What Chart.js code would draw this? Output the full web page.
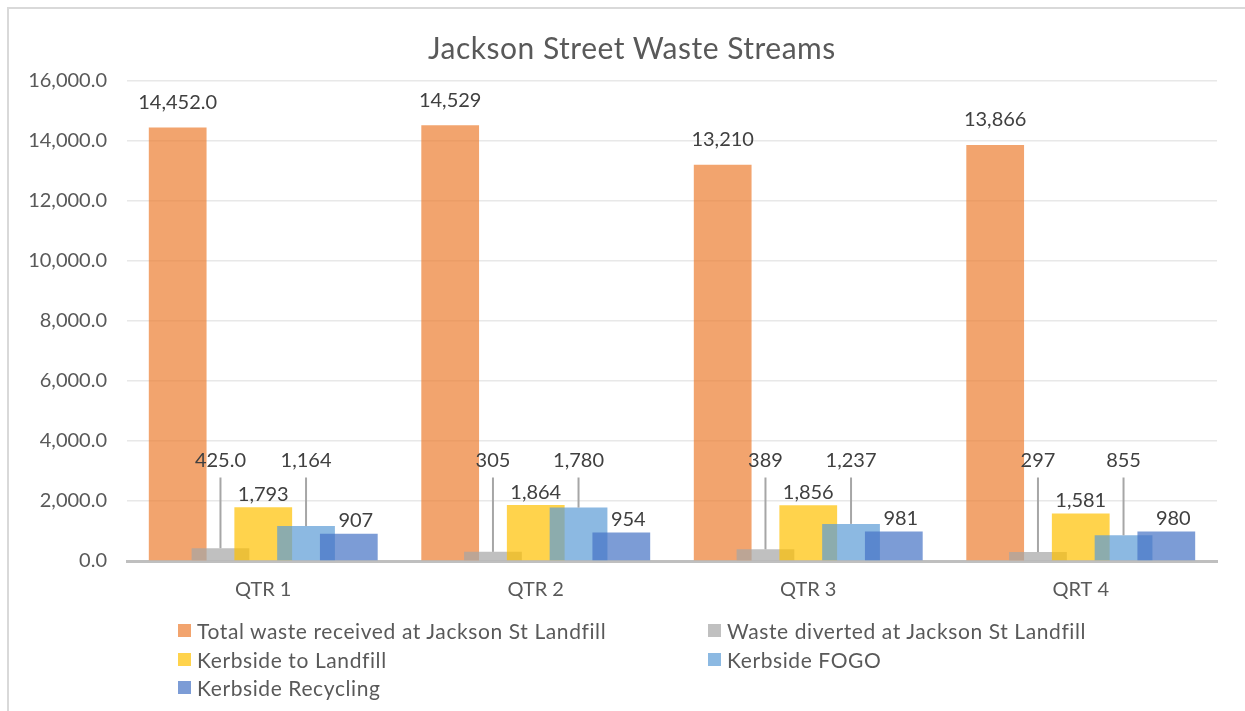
<!DOCTYPE html>
<html>
<head>
<meta charset="utf-8">
<script src="https://cdn.jsdelivr.net/npm/chart.js@4.4.1/dist/chart.umd.min.js"></script>
<style>
  html, body { margin: 0; padding: 0; background: #fff; }
  #wrap { position: relative; width: 1245px; height: 711px; overflow: hidden; font-family: Lato, 'Liberation Sans', sans-serif; }
  #frame { position: absolute; left: 7px; top: 7px; right: -10px; bottom: -10px; border-left: 2px solid #d9d9d9; border-top: 2px solid #d9d9d9; }
  #chart { position: absolute; left: 0; top: 0; }
  #title { position: absolute; left: 428px; width: 400px; top: 29px; height: 36px; line-height: 36px; text-align: center;
           font-size: 30px; letter-spacing: 0.5px; color: #595959; white-space: nowrap; }
  .lg { position: absolute; height: 24px; display: flex; align-items: center; font-size: 21px; letter-spacing: 0.6px; color: #595959; white-space: nowrap; }
  .lg i { display: inline-block; width: 13px; height: 13px; margin-right: 6px; }
</style>
</head>
<body>
<div id="wrap">
  <div id="frame"></div>
  <canvas id="chart" width="1245" height="711"></canvas>
  <div id="title">Jackson Street Waste Streams</div>
  <div id="legend"></div>
</div>
<script>
(function () {
    'use strict';

    const categories = ['QTR 1', 'QTR 2', 'QTR 3', 'QRT 4'];
    const seriesNames = [
        'Total waste received at Jackson St Landfill',
        'Waste diverted at Jackson St Landfill',
        'Kerbside to Landfill',
        'Kerbside FOGO',
        'Kerbside Recycling'
    ];
    const totalReceived     = [14452, 14529, 13210, 13866];
    const divertedLandfill  = [425, 305, 389, 297];
    const kerbsideLandfill  = [1793, 1864, 1856, 1581];
    const kerbsideFogo      = [1164, 1780, 1237, 855];
    const kerbsideRecycling = [907, 954, 981, 980];
    // decimals shown on each data label (only QTR 1 of the first two series shows ".0")
    const labelDecimals = [[1, 0, 0, 0], [1, 0, 0, 0], [0, 0, 0, 0], [0, 0, 0, 0], [0, 0, 0, 0]];
    const yMax = 16000, yStep = 2000;

    const COLORS = ['rgba(237,125,49,0.7)', 'rgba(165,165,165,0.7)', 'rgba(255,192,0,0.7)', 'rgba(91,155,213,0.7)', 'rgba(68,114,196,0.7)'];
    const FONT = 'Lato, "Liberation Sans", sans-serif';
    const CALLOUT = [false, true, false, true, false];  // labels lifted up with a leader line
    const CALLOUT_VALUE = 3350;
    const LABEL_GAP = [25, 0, 13, 0, 13];
    const LABEL_DX = [0, 0, 0, 0, 7];

    const allSeries = [totalReceived, divertedLandfill, kerbsideLandfill, kerbsideFogo, kerbsideRecycling];

    function fmt(v, d) { return v.toLocaleString('en-US', { minimumFractionDigits: d, maximumFractionDigits: d }); }

    // draw datasets first-to-last so later series sit on top
    const drawOrder = {
        id: 'drawOrder',
        beforeDatasetsDraw(chart) {
            const ctx = chart.ctx, a = chart.chartArea;
            ctx.save();
            ctx.beginPath(); ctx.rect(a.left, a.top - 2, a.right - a.left, a.bottom - a.top + 2); ctx.clip();
            for (let i = 0; i < chart.data.datasets.length; i++) chart.getDatasetMeta(i).controller.draw();
            ctx.restore();
            return false;
        }
    };

    const dataLabels = {
        id: 'dataLabels',
        afterDraw(chart) {
            const ctx = chart.ctx, y = chart.scales.y;
            ctx.save();
            ctx.font = '20px ' + FONT;
            ctx.fillStyle = '#404040';
            ctx.textAlign = 'center';
            ctx.textBaseline = 'middle';
            chart.data.datasets.forEach((ds, i) => {
                chart.getDatasetMeta(i).data.forEach((bar, j) => {
                    const txt = fmt(ds.data[j], labelDecimals[i][j]);
                    if (CALLOUT[i]) {
                        const ly = y.getPixelForValue(CALLOUT_VALUE);
                        ctx.strokeStyle = '#a6a6a6';
                        ctx.lineWidth = 2;
                        ctx.beginPath();
                        ctx.moveTo(bar.x, ly + 17);
                        ctx.lineTo(bar.x, bar.y);
                        ctx.stroke();
                        ctx.fillText(txt, bar.x, ly);
                    } else {
                        ctx.fillText(txt, bar.x + LABEL_DX[i], bar.y - LABEL_GAP[i]);
                    }
                });
            });
            ctx.restore();
        }
    };

    new Chart(document.getElementById('chart'), {
        type: 'bar',
        data: {
            labels: categories,
            datasets: allSeries.map((d, i) => ({
                label: seriesNames[i], data: d, backgroundColor: COLORS[i], borderWidth: 0,
                categoryPercentage: 0.785, barPercentage: 1.35
            }))
        },
        options: {
            responsive: false, animation: false,
            layout: { padding: { left: 0, right: 28, top: 81, bottom: 100 } },
            plugins: {
                legend: { display: false },
                tooltip: { enabled: false },
                title: { display: false }
            },
            scales: {
                x: {
                    grid: { display: false, drawTicks: false },
                    border: { display: true, color: '#bfbfbf', width: 3 },
                    ticks: { color: '#595959', font: { family: FONT, size: 20 }, padding: 17 },
                    afterFit(s) { s.height = 50; }
                },
                y: {
                    min: 0, max: yMax,
                    grid: { color: '#e8e8e8', lineWidth: 1.5, drawTicks: false },
                    border: { display: false },
                    ticks: { stepSize: yStep, color: '#595959', font: { family: FONT, size: 20 }, padding: 20,
                             callback: v => fmt(v, 1) },
                    afterFit(s) { s.width = 127; }
                }
            }
        },
        plugins: [drawOrder, dataLabels]
    });

    // legend in two columns like the original
    const pos = [[178, 630], [708, 630], [178, 659], [708, 659], [178, 687]];
    document.getElementById('legend').innerHTML = seriesNames.map((n, i) =>
        `<div class="lg" style="left:${pos[i][0]}px;top:${pos[i][1] - 12}px"><i style="background:${COLORS[i]}"></i>${n}</div>`).join('');
})();
</script>
</body>
</html>
